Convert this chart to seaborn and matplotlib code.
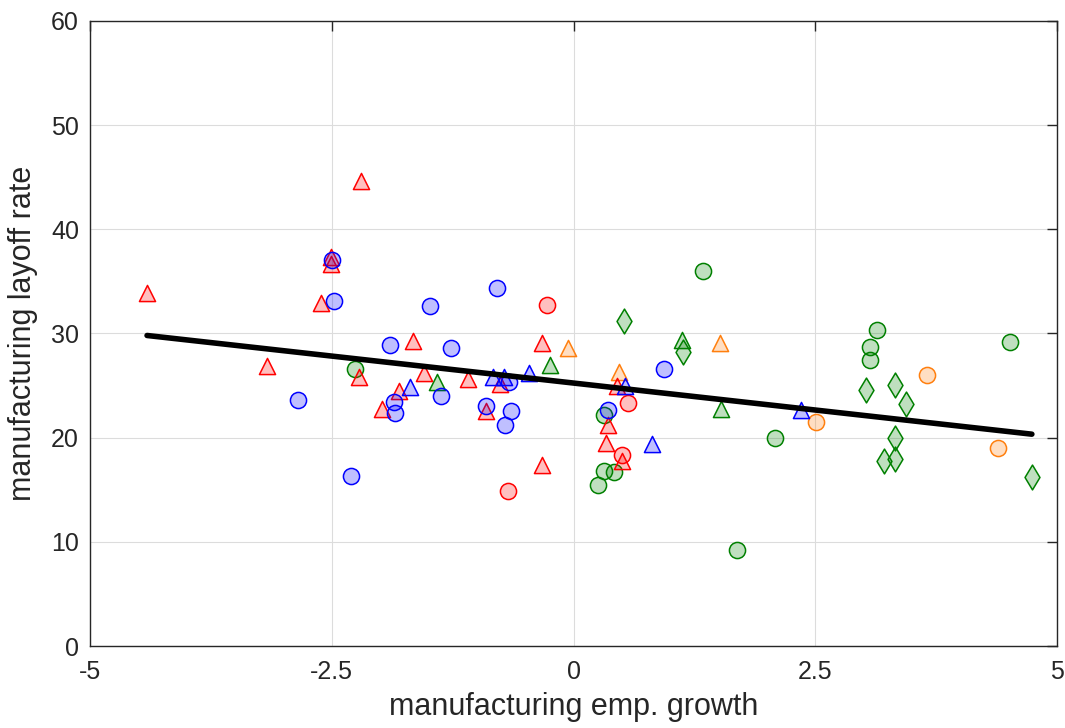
import pandas as pd
import seaborn as sns
import matplotlib.pyplot as plt
import numpy as np
from matplotlib.colors import to_rgba

# red triangles
red_tri_x = [-4.41, -3.17, -2.61, -2.51, -2.51, -2.20, -2.22, -1.98, -1.80, -1.66,
             -1.55, -1.09, -0.91, -0.76, -0.33, -0.33, 0.36, 0.34, 0.45, 0.50]
red_tri_y = [33.9, 26.9, 32.9, 37.3, 36.7, 44.6, 25.8, 22.8, 24.5, 29.3,
             26.2, 25.6, 22.6, 25.2, 29.1, 17.4, 21.2, 19.5, 25.0, 17.8]
# red circles
red_cir_x = [-0.27, -0.68, 0.56, 0.50]
red_cir_y = [32.7, 14.9, 23.3, 18.3]
# blue circles
blue_cir_x = [-2.50, -2.48, -2.85, -2.30, -1.90, -1.48, -1.27, -0.79, -1.37, -1.86,
              -1.85, -0.90, -0.67, -0.65, -0.71, 0.36, 0.94]
blue_cir_y = [37.1, 33.1, 23.6, 16.3, 28.9, 32.6, 28.6, 34.4, 24.0, 23.4,
              22.4, 23.0, 25.3, 22.6, 21.2, 22.7, 26.6]
# blue triangles
blue_tri_x = [-1.69, -0.83, -0.72, -0.46, 0.53, 0.81, 2.35]
blue_tri_y = [24.9, 25.8, 25.8, 26.2, 25.0, 19.4, 22.7]
# green circles
green_cir_x = [-2.26, 0.32, 0.32, 0.42, 0.25, 1.34, 1.69, 2.08, 3.14, 3.07, 3.07, 4.51]
green_cir_y = [26.6, 22.2, 16.8, 16.7, 15.5, 36.0, 9.2, 20.0, 30.3, 28.7, 27.5, 29.2]
# green triangles
green_tri_x = [-1.41, -0.24, 1.12, 1.53]
green_tri_y = [25.3, 27.0, 29.4, 22.8]
# green diamonds
green_dia_x = [0.52, 1.13, 3.02, 3.32, 3.44, 3.32, 3.32, 3.21, 4.74]
green_dia_y = [31.2, 28.2, 24.6, 25.1, 23.2, 20.0, 18.0, 17.8, 16.2]
# orange triangles / circles
orange_tri_x = [-0.06, 0.47, 1.52]
orange_tri_y = [28.6, 26.3, 29.1]
orange_cir_x = [2.51, 3.66, 4.39]
orange_cir_y = [21.5, 26.0, 19.0]

groups = [
    (green_cir_x, green_cir_y, '#008000', 'o'),
    (green_tri_x, green_tri_y, '#008000', '^'),
    (green_dia_x, green_dia_y, '#008000', 'd'),
    (orange_tri_x, orange_tri_y, '#ff7f0e', '^'),
    (orange_cir_x, orange_cir_y, '#ff7f0e', 'o'),
    (red_tri_x, red_tri_y, '#ff0000', '^'),
    (red_cir_x, red_cir_y, '#ff0000', 'o'),
    (blue_cir_x, blue_cir_y, '#0000ff', 'o'),
    (blue_tri_x, blue_tri_y, '#0000ff', '^'),
]

sns.set_style('white')
plt.rcParams['font.family'] = ['Liberation Sans', 'DejaVu Sans']

fig = plt.figure(figsize=(10.65, 7.28), dpi=100)
ax = fig.add_axes([0.0845, 0.1126, 0.908, 0.8586])

for gx, gy, c, m in groups:
    sns.scatterplot(x=gx, y=gy, marker=m, s=135 if m != 'd' else 160,
                    color=c, edgecolor=c, linewidth=1.1, ax=ax, zorder=3)
    ax.collections[-1].set_facecolor(to_rgba(c, 0.25))

all_x = np.concatenate([g[0] for g in groups])
all_y = np.concatenate([g[1] for g in groups])
sns.regplot(x=all_x, y=all_y, scatter=False, ci=None, truncate=True,
            color='black', line_kws={'lw': 4, 'zorder': 4}, ax=ax)

ax.set_xlim(-5, 5)
ax.set_ylim(0, 60)
ax.set_xticks([-5, -2.5, 0, 2.5, 5])
ax.set_xticklabels(['-5', '-2.5', '0', '2.5', '5'])
ax.set_yticks(range(0, 61, 10))
ax.grid(True, color='#dcdcdc', lw=0.8)
ax.set_axisbelow(True)
ax.tick_params(direction='in', top=True, right=True, length=7,
               labelsize=18, colors='#262626', width=1)
ax.tick_params(axis='x', pad=10)
ax.tick_params(axis='y', pad=8)
for sp in ax.spines.values():
    sp.set_color('#262626')
    sp.set_linewidth(1)
ax.set_xlabel('manufacturing emp. growth', fontsize=22, color='#262626', labelpad=6)
ax.set_ylabel('manufacturing layoff rate', fontsize=22, color='#262626', labelpad=9)

fig.savefig('out.png', dpi=100)
